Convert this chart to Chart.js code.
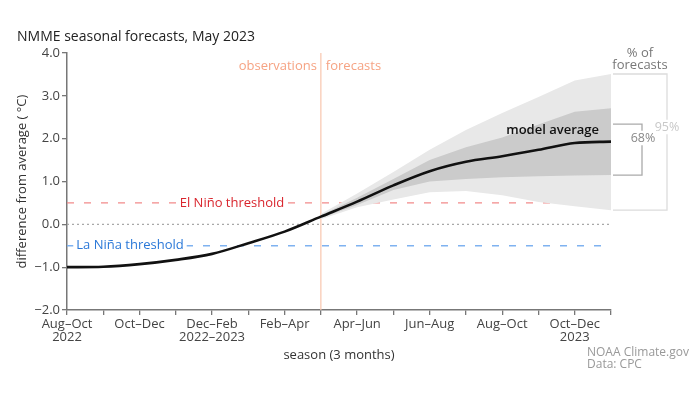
<!DOCTYPE html>
<html lang="en">
<head>
<meta charset="UTF-8">
<title>NMME seasonal forecasts, May 2023</title>
<script src="https://cdn.jsdelivr.net/npm/chart.js@4"></script>
<style>
    html, body { margin: 0; padding: 0; background: #fff; }
    .wrap { width: 699px; height: 399px; }
</style>
</head>
<body>
<div class="wrap"><canvas id="ninoChart" width="699" height="399"></canvas></div>
<script>
// 3-month seasons, Aug-Oct 2022 .. Nov-Jan 2023/24
const seasons = ['Aug–Oct', 'Sep–Nov', 'Oct–Dec', 'Nov–Jan', 'Dec–Feb', 'Jan–Mar', 'Feb–Apr', 'Mar–May',
                 'Apr–Jun', 'May–Jul', 'Jun–Aug', 'Jul–Sep', 'Aug–Oct', 'Sep–Nov', 'Oct–Dec', 'Nov–Jan'];
const tickLabels = [['Aug–Oct', '2022'], '', 'Oct–Dec', '', ['Dec–Feb', '2022–2023'], '', 'Feb–Apr', '',
                    'Apr–Jun', '', 'Jun–Aug', '', 'Aug–Oct', '', ['Oct–Dec', '2023'], ''];
const lastObserved = 7; // Mar-May

const modelAvg = [-1.00, -0.99, -0.93, -0.83, -0.69, -0.44, -0.17, 0.18, 0.53, 0.91, 1.24, 1.46, 1.59, 1.74, 1.90, 1.93];
const upper68  = [null, null, null, null, null, null, null, 0.21, 0.62, 1.06, 1.50, 1.80, 2.03, 2.33, 2.63, 2.71];
const lower68  = [null, null, null, null, null, null, null, 0.15, 0.45, 0.80, 1.00, 1.06, 1.10, 1.12, 1.14, 1.15];
const upper95  = [null, null, null, null, null, null, null, 0.24, 0.72, 1.22, 1.74, 2.20, 2.60, 2.97, 3.36, 3.51];
const lower95  = [null, null, null, null, null, null, null, 0.12, 0.40, 0.58, 0.75, 0.78, 0.68, 0.52, 0.42, 0.33];
const elNino   = seasons.map(() => 0.5);
const laNina   = seasons.map(() => -0.5);
const zeroLine = seasons.map(() => 0);
const bracket68 = [1.15, 2.34];

const yTicks = { min: -2, max: 4, step: 1 };
const FONT = '"Open Sans", sans-serif';

function label(ctx, text, x, y, color, size, align, weight, bg) {
    ctx.font = (weight || 'normal') + ' ' + size + 'px ' + FONT;
    ctx.textAlign = align;
    ctx.textBaseline = 'middle';
    if (bg) {
        const w = ctx.measureText(text).width;
        const left = align === 'center' ? x - w / 2 : align === 'right' ? x - w : x;
        ctx.fillStyle = bg;
        ctx.fillRect(left - 3, y - size / 2 - 1, w + 6, size + 2);
    }
    ctx.fillStyle = color;
    ctx.fillText(text, x, y);
}

const annotate = {
    id: 'annotate',
    beforeDatasetsDraw(chart) {
        const { ctx, chartArea, scales: { x } } = chart;
        const xs = x.getPixelForValue(lastObserved);
        ctx.save();
        ctx.strokeStyle = '#f9c6ae';
        ctx.lineWidth = 1.2;
        ctx.beginPath();
        ctx.moveTo(xs, chartArea.top);
        ctx.lineTo(xs, chartArea.bottom);
        ctx.stroke();
        ctx.restore();
    },
    afterDatasetsDraw(chart) {
        const { ctx, chartArea, scales: { x, y } } = chart;
        const xs = x.getPixelForValue(lastObserved);
        const r = chartArea.right;
        ctx.save();
        label(ctx, 'NMME seasonal forecasts, May 2023', 17, 37, '#222', 14, 'left');
        label(ctx, 'observations', xs - 4, 66, '#f6a383', 13, 'right');
        label(ctx, 'forecasts', xs + 5, 66, '#f6a383', 13, 'left');

        label(ctx, 'El Niño threshold', 232, y.getPixelForValue(0.5), '#d9262e', 13, 'center', 'normal', '#fff');
        label(ctx, 'La Niña threshold', 130, y.getPixelForValue(-0.5), '#2a78d8', 13, 'center', 'normal', '#fff');

        label(ctx, 'model average', 599, y.getPixelForValue(modelAvg[modelAvg.length - 1]) - 11, '#111', 13, 'right', '600');

        // brackets for the spread of forecasts
        const t95 = y.getPixelForValue(upper95[upper95.length - 1]);
        const b95 = y.getPixelForValue(lower95[lower95.length - 1]);
        ctx.strokeStyle = '#dcdcdc';
        ctx.lineWidth = 1.3;
        ctx.beginPath();
        ctx.moveTo(r + 2, t95); ctx.lineTo(r + 56, t95); ctx.lineTo(r + 56, b95); ctx.lineTo(r + 2, b95);
        ctx.stroke();
        const t68 = y.getPixelForValue(bracket68[1]);
        const b68 = y.getPixelForValue(bracket68[0]);
        ctx.strokeStyle = '#aaa';
        ctx.beginPath();
        ctx.moveTo(r + 2, t68); ctx.lineTo(r + 31, t68); ctx.lineTo(r + 31, b68); ctx.lineTo(r + 2, b68);
        ctx.stroke();
        label(ctx, '95%', r + 56, 127, '#c8c8c8', 12.5, 'center', 'normal', '#fff');
        label(ctx, '68%', r + 32, 138, '#888', 12.5, 'center', 'normal', '#fff');
        label(ctx, '% of', r + 29, 53, '#777', 13, 'center');
        label(ctx, 'forecasts', r + 29, 65, '#777', 13, 'center');

        label(ctx, 'NOAA Climate.gov', 587, 353, '#999', 12, 'left');
        label(ctx, 'Data: CPC', 587, 365, '#999', 12, 'left');
        ctx.restore();
    }
};

const flat = { pointRadius: 0, pointHoverRadius: 0, tension: 0 };

new Chart(document.getElementById('ninoChart').getContext('2d'), {
    type: 'line',
    data: {
        labels: seasons,
        datasets: [
            { label: 'model average', data: modelAvg, borderColor: '#111', borderWidth: 2.6,
              pointRadius: 0, cubicInterpolationMode: 'monotone', fill: false },
            { label: '68% upper', data: upper68, borderWidth: 0, borderColor: 'rgba(0,0,0,0)',
              backgroundColor: '#cbcbcb', fill: '+1', ...flat },
            { label: '68% lower', data: lower68, borderWidth: 0, borderColor: 'rgba(0,0,0,0)', fill: false, ...flat },
            { label: '95% upper', data: upper95, borderWidth: 0, borderColor: 'rgba(0,0,0,0)',
              backgroundColor: '#e8e8e8', fill: '+1', ...flat },
            { label: '95% lower', data: lower95, borderWidth: 0, borderColor: 'rgba(0,0,0,0)', fill: false, ...flat },
            { label: 'El Niño threshold', data: elNino, borderColor: '#f28a8a', borderWidth: 1.3,
              borderDash: [7, 10], fill: false, ...flat },
            { label: 'La Niña threshold', data: laNina, borderColor: '#7fb2f0', borderWidth: 1.3,
              borderDash: [7, 10], fill: false, ...flat },
            { label: 'zero', data: zeroLine, borderColor: '#a8a8a8', borderWidth: 1.3,
              borderDash: [2, 3], fill: false, ...flat }
        ]
    },
    options: {
        responsive: false,
        animation: false,
        events: [],
        layout: { padding: { top: 53, right: 88, left: 0, bottom: 0 } },
        plugins: { legend: { display: false }, title: { display: false }, tooltip: { enabled: false } },
        scales: {
            x: {
                type: 'category',
                offset: false,
                afterFit: s => { s.height = 89; },
                border: { color: '#777', width: 1.5 },
                grid: { drawOnChartArea: false, drawTicks: true, tickLength: 5, color: '#777', lineWidth: 1.3 },
                ticks: {
                    autoSkip: false, maxRotation: 0, padding: 3,
                    color: '#444', font: { family: FONT, size: 13, lineHeight: 1.0 },
                    callback: (v, i) => tickLabels[i]
                },
                title: { display: true, text: 'season (3 months)', color: '#333',
                         font: { family: FONT, size: 13 }, padding: { top: 0, bottom: 36 } }
            },
            y: {
                min: yTicks.min, max: yTicks.max,
                afterFit: s => { s.width = 67; },
                border: { color: '#777', width: 1.5 },
                grid: { drawOnChartArea: false, drawTicks: true, tickLength: 5, color: '#777', lineWidth: 1.3 },
                ticks: {
                    stepSize: yTicks.step, padding: 2, color: '#444',
                    font: { family: FONT, size: 13 },
                    callback: v => v.toFixed(1).replace('-', '−')
                },
                title: { display: true, text: 'difference from average ( °C)', color: '#333',
                         font: { family: FONT, size: 13 }, padding: { top: 14, bottom: 0 } }
            }
        }
    },
    plugins: [annotate]
});
</script>
</body>
</html>
